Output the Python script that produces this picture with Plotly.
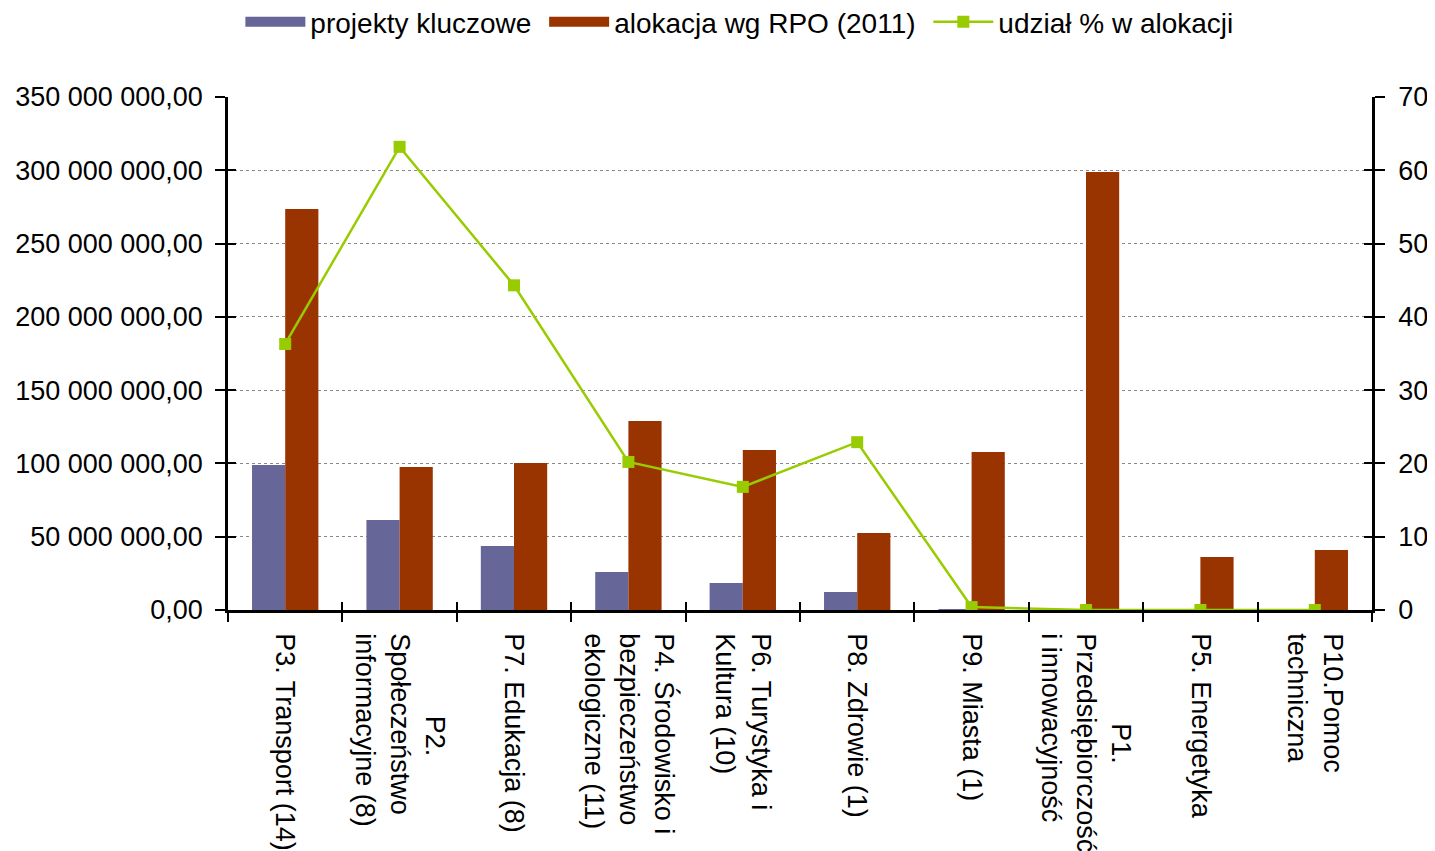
import plotly.graph_objects as go

NB = "&nbsp;"
categories = [
    "P3. Transport (14)",
    NB * 11 + "P2.<br>Społeczeństwo<br>informacyjne (8)",
    "P7. Edukacja (8)",
    "P4. Środowisko i<br>bezpieczeństwo<br>ekologiczne (11)",
    "P6. Turystyka i<br>Kultura (10)",
    "P8. Zdrowie (1)",
    "P9. Miasta (1)",
    NB * 12 + "P1.<br>Przedsiębiorczość<br>i innowacyjność",
    "P5. Energetyka",
    "P10.Pomoc<br>techniczna",
]
projekty_kluczowe = [99.0e6, 61.4e6, 43.7e6, 25.9e6, 18.4e6, 12.3e6, 0.45e6, 0, 0, 0]
alokacja_rpo_2011 = [273.6e6, 97.6e6, 100.3e6, 129.0e6, 109.2e6, 52.5e6, 107.8e6, 298.8e6, 36.2e6, 40.9e6]
udzial_proc = [36.3, 63.2, 44.3, 20.2, 16.8, 22.9, 0.4, 0.0, 0.0, 0.0]

left_tickvals = [0, 50e6, 100e6, 150e6, 200e6, 250e6, 300e6, 350e6]
left_ticktext = ["0,00", "50 000 000,00", "100 000 000,00", "150 000 000,00",
                 "200 000 000,00", "250 000 000,00", "300 000 000,00", "350 000 000,00"]
right_tickvals = [0, 10, 20, 30, 40, 50, 60, 70]

FONT = "Liberation Sans, Arial, sans-serif"
fs = 27

BLUE = "#666699"
RED = "#993300"
GREEN = "#99CC00"

fig = go.Figure()
fig.add_trace(go.Bar(name="projekty kluczowe", x=categories, y=projekty_kluczowe,
                     marker=dict(color=BLUE, line=dict(width=0)), showlegend=False))
fig.add_trace(go.Bar(name="alokacja wg RPO (2011)", x=categories, y=alokacja_rpo_2011,
                     marker=dict(color=RED, line=dict(width=0)), showlegend=False))
# legend entries with wide rectangular keys (no data)
fig.add_trace(go.Scatter(name="projekty kluczowe ", x=[None], y=[None], mode="lines",
                         line=dict(color=BLUE, width=18)))
fig.add_trace(go.Scatter(name="alokacja wg RPO (2011) ", x=[None], y=[None], mode="lines",
                         line=dict(color=RED, width=18)))
fig.add_trace(go.Scatter(name="udział % w alokacji", x=categories, y=udzial_proc, yaxis="y2",
                         mode="lines+markers",
                         line=dict(color=GREEN, width=2.5),
                         marker=dict(symbol="square", size=12, color=GREEN)))
# invisible helpers so overlay axes draw their inner tick marks
fig.add_trace(go.Scatter(x=categories, y=udzial_proc, xaxis="x2", yaxis="y2",
                         mode="markers", marker=dict(opacity=0), showlegend=False,
                         hoverinfo="skip"))
fig.add_trace(go.Scatter(x=categories, y=alokacja_rpo_2011, yaxis="y3", mode="markers",
                         marker=dict(opacity=0), showlegend=False, hoverinfo="skip"))
fig.add_trace(go.Scatter(x=categories, y=udzial_proc, yaxis="y4", mode="markers",
                         marker=dict(opacity=0), showlegend=False, hoverinfo="skip"))

xrange = [-0.5, len(categories) - 0.5]

fig.update_layout(
    width=1427, height=843,
    margin=dict(l=220, r=63, t=89, b=241, autoexpand=False),
    paper_bgcolor="white", plot_bgcolor="white",
    font=dict(family=FONT, size=fs, color="black"),
    barmode="group", bargap=0.42, bargroupgap=0,
    legend=dict(orientation="h", x=0.447, xanchor="center", y=1.146, yanchor="middle",
                font=dict(size=28), traceorder="normal", tracegroupgap=0,
                itemwidth=60),
    xaxis=dict(type="category", range=xrange, tickangle=90, tickson="boundaries",
               ticks="outside", ticklen=9, tickwidth=2, tickcolor="black",
               showline=True, linecolor="black", linewidth=2.5, automargin=False,
               showgrid=False, tickfont=dict(size=fs), ticklabelstandoff=15),
    xaxis2=dict(type="category", range=xrange, overlaying="x", side="bottom",
                tickson="boundaries", ticks="inside", ticklen=8, tickwidth=2,
                tickcolor="black", showticklabels=False, showgrid=False,
                showline=False, automargin=False),
    yaxis=dict(range=[0, 350e6], tickvals=left_tickvals, ticktext=left_ticktext,
               ticks="outside", ticklen=10, tickwidth=2, tickcolor="black",
               showline=True, linecolor="black", linewidth=2.5, automargin=False,
               showgrid=True, gridcolor="#888888", griddash="dot", gridwidth=1,
               zeroline=False, tickfont=dict(size=fs), ticklabelstandoff=7),
    yaxis2=dict(range=[0, 70], tickvals=right_tickvals, overlaying="y", side="right",
                ticks="outside", ticklen=10, tickwidth=2, tickcolor="black",
                showline=True, linecolor="black", linewidth=2.5, automargin=False,
                showgrid=False, zeroline=False, tickfont=dict(size=fs),
                ticklabelstandoff=8),
    yaxis3=dict(range=[0, 350e6], tickvals=left_tickvals, overlaying="y", side="left",
                ticks="inside", ticklen=8, tickwidth=2, tickcolor="black",
                showticklabels=False, showgrid=False, zeroline=False, showline=False,
                automargin=False),
    yaxis4=dict(range=[0, 70], tickvals=right_tickvals, overlaying="y", side="right",
                ticks="inside", ticklen=8, tickwidth=2, tickcolor="black",
                showticklabels=False, showgrid=False, zeroline=False, showline=False,
                automargin=False),
)

fig.write_html("out.html")
